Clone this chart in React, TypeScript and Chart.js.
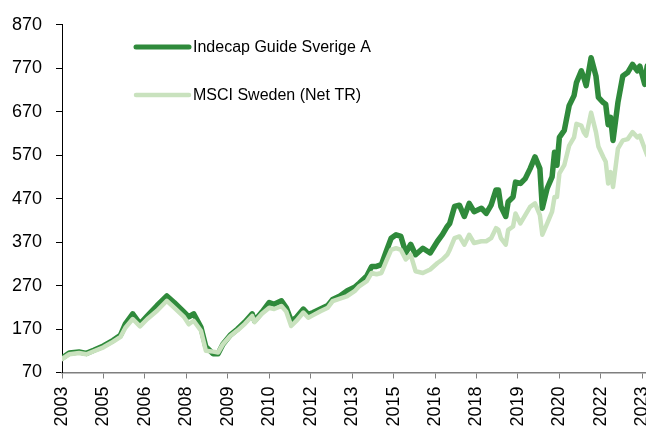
import React, { useEffect, useRef } from 'react';
import { Chart, registerables } from 'chart.js';

Chart.register(...registerables);

// Month offsets from the first observation (Nov 2003)
const months = [
  0, 3, 7, 10, 13, 17, 21, 24, 26, 29,
  32, 35, 39, 43, 46, 50, 52, 54, 57, 59,
  62, 64, 66, 69, 72, 75, 78, 79, 82, 85,
  87, 90, 92, 94, 96, 99, 101, 103, 106, 109,
  111, 114, 117, 120, 122, 125, 127, 129, 131, 133,
  135, 137, 139, 141, 143, 145, 148, 151, 154, 156,
  158, 159, 161, 163, 165, 167, 169, 172, 174, 176,
  178, 179, 180, 182, 183, 185, 186, 188, 190, 192,
  194, 196, 197, 199, 201, 202, 203, 204, 206, 208,
  210, 211, 213, 214, 215, 217, 219, 220, 222, 223,
  224, 225, 226, 228, 230, 232, 234, 236, 237, 239,
  240,
];

const indecap = [
  103, 115, 117, 114, 121, 131, 144, 156, 182, 205,
  182, 200, 224, 246, 231, 209, 198, 205, 174, 129,
  113, 113, 135, 156, 170, 186, 205, 189, 209, 231,
  227, 235, 219, 189, 196, 216, 204, 208, 216, 224,
  238, 246, 258, 266, 276, 292, 314, 314, 318, 349,
  379, 387, 383, 345, 365, 341, 356, 345, 372, 387,
  406, 413, 452, 455, 429, 459, 440, 448, 436, 455,
  490, 490, 452, 429, 463, 474, 508, 505, 516, 539,
  566, 539, 448, 494, 520, 577, 547, 611, 627, 684,
  707, 737, 764, 749, 730, 794, 752, 703, 691, 687,
  640, 657, 604, 691, 752, 760, 779, 764, 775, 733,
  775,
];

const msci = [
  101, 112, 115, 112, 119, 128, 141, 152, 173, 193,
  176, 193, 212, 235, 219, 198, 181, 189, 166, 120,
  118, 116, 135, 154, 167, 182, 200, 186, 205, 219,
  216, 223, 210, 177, 188, 208, 196, 202, 211, 219,
  234, 240, 246, 257, 269, 280, 299, 296, 299, 326,
  352, 356, 352, 330, 341, 303, 299, 307, 322, 330,
  341, 352, 379, 383, 364, 387, 368, 372, 372, 379,
  402, 398, 379, 364, 398, 406, 436, 413, 432, 451,
  459, 432, 387, 413, 440, 474, 474, 528, 547, 592,
  611, 642, 638, 623, 615, 668, 623, 590, 566, 555,
  505, 531, 497, 585, 604, 607, 623, 611, 615, 585,
  570,
];

const seriesNames = ['Indecap Guide Sverige A', 'MSCI Sweden (Net TR)'];

const xTickLabels = [
  '2003', '2005', '2006', '2008', '2009', '2010', '2012', '2013',
  '2015', '2016', '2018', '2019', '2020', '2022', '2023',
];
const xTickMonths = [0, 17, 34, 51, 68, 85, 102, 119, 136, 153, 170, 187, 204, 221, 238];

const yTicks = [70, 170, 270, 370, 470, 570, 670, 770, 870];

const DARK = '#2F8A3B';
const LIGHT = '#C9E2BE';
const FONT = '"Liberation Sans", Arial, sans-serif';

const legendPlugin = {
  id: 'customLegend',
  afterDraw(chart: any) {
    const ctx = chart.ctx;
    const items = [
      { label: seriesNames[0], color: DARK, width: 5, y: 47 },
      { label: seriesNames[1], color: LIGHT, width: 4.5, y: 95 },
    ];
    ctx.save();
    items.forEach((it) => {
      ctx.beginPath();
      ctx.lineCap = 'round';
      ctx.strokeStyle = it.color;
      ctx.lineWidth = it.width;
      ctx.moveTo(136, it.y);
      ctx.lineTo(189, it.y);
      ctx.stroke();
      ctx.fillStyle = '#000';
      ctx.font = `16px ${FONT}`;
      ctx.textBaseline = 'middle';
      ctx.textAlign = 'left';
      ctx.fillText(it.label, 193, it.y + 1);
    });
    ctx.restore();
  },
};

export default function App() {
  const ref = useRef<HTMLCanvasElement | null>(null);

  useEffect(() => {
    if (!ref.current) return;
    const chart = new Chart(ref.current, {
      type: 'line',
      data: {
        datasets: [
          {
            label: seriesNames[0],
            data: months.map((m, i) => ({ x: m, y: indecap[i] })),
            borderColor: DARK,
            backgroundColor: DARK,
            borderWidth: 5.5,
            pointRadius: 0,
            tension: 0,
            borderJoinStyle: 'round',
            borderCapStyle: 'round',
            order: 1,
          },
          {
            label: seriesNames[1],
            data: months.map((m, i) => ({ x: m, y: msci[i] })),
            borderColor: LIGHT,
            backgroundColor: LIGHT,
            borderWidth: 4.5,
            pointRadius: 0,
            tension: 0,
            borderJoinStyle: 'round',
            borderCapStyle: 'round',
            order: 0,
          },
        ],
      },
      options: {
        animation: false,
        responsive: false,
        maintainAspectRatio: false,
        layout: { padding: { top: 22, right: 13, left: 0, bottom: 0 } },
        plugins: {
          legend: { display: false },
          tooltip: { enabled: false },
        },
        scales: {
          x: {
            type: 'linear',
            min: 0,
            max: 240,
            afterBuildTicks: (scale: any) => {
              scale.ticks = xTickMonths.map((v) => ({ value: v }));
            },
            afterFit: (scale: any) => {
              scale.height = 67.5;
            },
            ticks: {
              autoSkip: false,
              minRotation: 90,
              maxRotation: 90,
              padding: 8,
              color: '#000',
              font: { family: FONT, size: 18 },
              callback: (_v: any, i: number) => xTickLabels[i],
            },
            grid: {
              drawOnChartArea: false,
              drawTicks: true,
              tickLength: 6,
              color: '#7f7f7f',
            },
            border: { display: true, color: '#7f7f7f', width: 1.5 },
          },
          y: {
            type: 'linear',
            min: 70,
            max: 870,
            afterBuildTicks: (scale: any) => {
              scale.ticks = yTicks.map((v) => ({ value: v }));
            },
            afterFit: (scale: any) => {
              scale.width = 62;
            },
            ticks: {
              padding: 14,
              color: '#000',
              font: { family: FONT, size: 18 },
              callback: (v: any) => String(v),
            },
            grid: {
              drawOnChartArea: false,
              drawTicks: true,
              tickLength: 6,
              color: '#000',
            },
            border: { display: true, color: '#000', width: 1 },
          },
        },
      },
      plugins: [legendPlugin],
    });
    return () => chart.destroy();
  }, []);

  return (
    <div
      style={{
        position: 'absolute',
        left: 0,
        top: 0,
        width: 646,
        height: 427,
        overflow: 'hidden',
        background: '#fff',
      }}
    >
      <canvas ref={ref} width={672} height={440} style={{ width: 672, height: 440, display: 'block' }} />
    </div>
  );
}
